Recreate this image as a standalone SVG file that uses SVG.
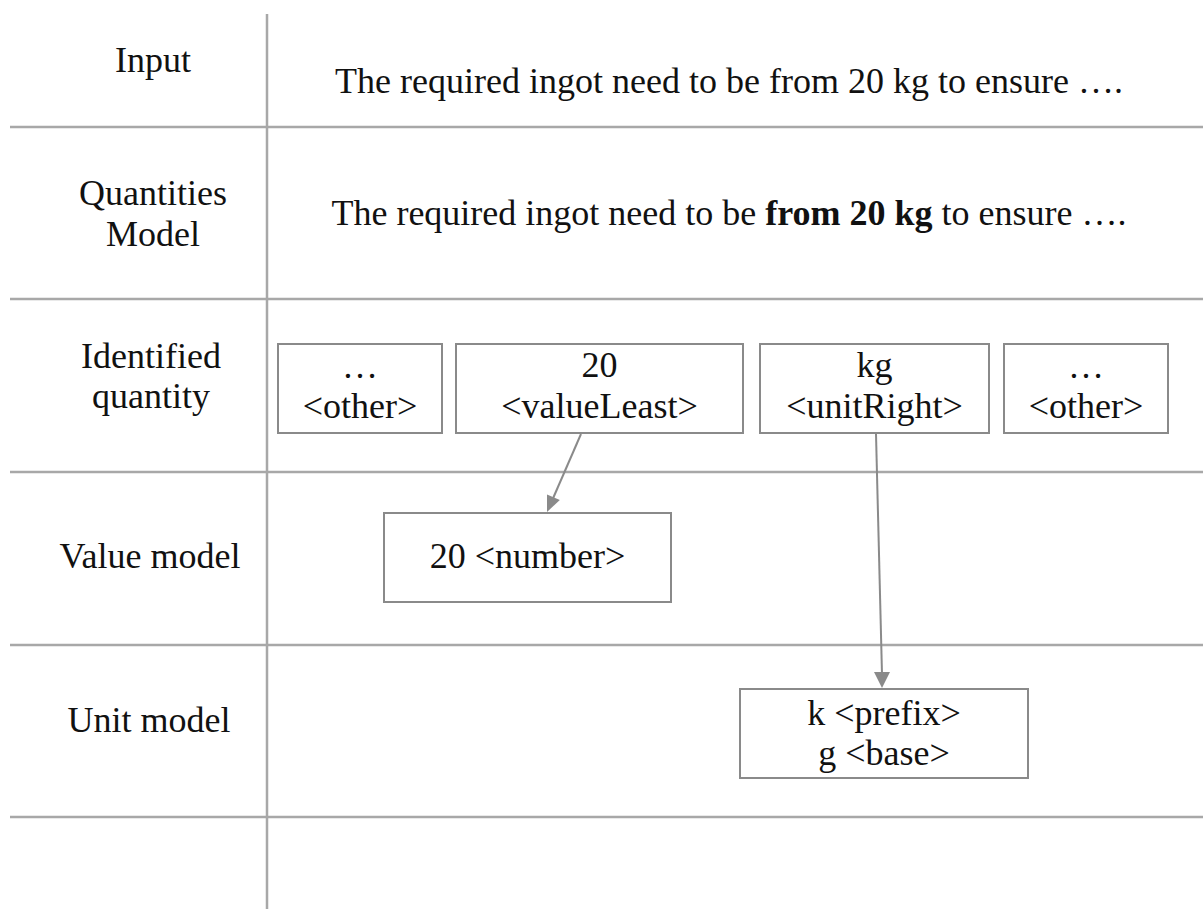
<svg xmlns="http://www.w3.org/2000/svg" width="1203" height="909" viewBox="0 0 1203 909">
<style>
text{font-family:"Liberation Serif","Times New Roman",serif;font-size:36px;fill:#111;text-anchor:middle}
.grid{stroke:#a8a8a8;stroke-width:2.5;fill:none}
.box{fill:#fff;stroke:#8a8a8a;stroke-width:2}
.conn{stroke:#8a8a8a;stroke-width:2;fill:none}
.head{fill:#8a8a8a}
.b{font-weight:bold}
</style>
<rect width="1203" height="909" fill="#fff"/>
<g id="grid">
<line class="grid" x1="267" y1="14" x2="267" y2="909"/>
<line class="grid" x1="10" y1="127" x2="1203" y2="127"/>
<line class="grid" x1="10" y1="299" x2="1203" y2="299"/>
<line class="grid" x1="10" y1="472" x2="1203" y2="472"/>
<line class="grid" x1="10" y1="645" x2="1203" y2="645"/>
<line class="grid" x1="10" y1="817" x2="1203" y2="817"/>
</g>
<g id="labels">
<text x="153" y="72">Input</text>
<text x="153" y="205">Quantities</text>
<text x="153" y="246">Model</text>
<text x="151" y="368">Identified</text>
<text x="151" y="408">quantity</text>
<text x="150" y="568">Value model</text>
<text x="149" y="732">Unit model</text>
</g>
<g id="input-text"><text x="729" y="93">The required ingot need to be from 20 kg to ensure ….</text></g>
<g id="quantities-text"><text x="729" y="225">The required ingot need to be <tspan class="b">from 20 kg</tspan> to ensure ….</text></g>
<g id="connectors">
<path class="conn" d="M581,434 L551,503"/>
<path class="head" d="M547,512 L559.8,500.1 L547,494.5 z"/>
<path class="conn" d="M876,434 L882,674"/>
<path class="head" d="M874,672 L890,672 L882,688 z"/>
</g>
<g id="node-other1"><rect class="box" x="278" y="344" width="164" height="89"/><text x="360" y="378">…</text><text x="360" y="418">&lt;other&gt;</text></g>
<g id="node-valueLeast"><rect class="box" x="456" y="344" width="287" height="89"/><text x="599.5" y="377">20</text><text x="599.5" y="418">&lt;valueLeast&gt;</text></g>
<g id="node-unitRight"><rect class="box" x="760" y="344" width="229" height="89"/><text x="874.5" y="377">kg</text><text x="874.5" y="418">&lt;unitRight&gt;</text></g>
<g id="node-other2"><rect class="box" x="1004" y="344" width="164" height="89"/><text x="1086" y="378">…</text><text x="1086" y="418">&lt;other&gt;</text></g>
<g id="node-number"><rect class="box" x="384" y="513" width="287" height="89"/><text x="527.5" y="568">20 &lt;number&gt;</text></g>
<g id="node-unit"><rect class="box" x="740" y="689" width="288" height="89"/><text x="884" y="725">k &lt;prefix&gt;</text><text x="884" y="765">g &lt;base&gt;</text></g>
</svg>
